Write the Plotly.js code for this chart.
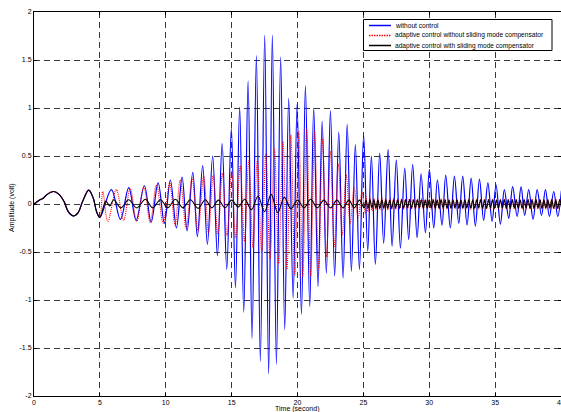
<!DOCTYPE html>
<html>
<head>
<meta charset="utf-8">
<script src="https://cdn.plot.ly/plotly-3.0.1.min.js"></script>
<style>html,body{margin:0;padding:0;background:#fff;}#chart{width:561px;height:412px;}</style>
</head>
<body>
<div id="chart"></div>
<script>
// Common response for t in [0,5] (all three curves coincide)
const tCommon = [0,0.4,0.7,1.0,1.5,1.9,2.3,2.6,3.0,3.35,3.7,4.15,4.5,4.75,5.0];
const yCommon = [0,0.04,0.06,0.1,0.13,0.1,0.02,-0.08,-0.125,-0.09,0.03,0.145,0.06,-0.08,-0.14];

// Without control (blue) after t = 5 s : peaks and troughs
const tBlue = [5.87,6.56,7.19,7.75,8.38,8.89,9.42,9.9,10.35,10.81,11.24,11.62,12.05,12.4,12.8,13.16,13.56,13.92,14.28,14.63,14.98,
  15.29,15.61,15.92,16.25,16.55,16.88,17.18,17.51,17.81,18.09,18.4,18.72,19.03,19.33,19.67,19.97,20.3,20.6,20.93,21.23,21.56,21.87,22.19,22.5,22.82,23.13,23.46,23.77,24.09,24.39,
  24.7,25.02,25.33,25.61,25.91,26.24,26.54,26.88,27.18,27.5,27.81,28.14,28.44,28.74,29.08,29.38,29.71,30.01,30.34,30.62,30.97,31.25,31.6,31.91,32.24,32.54,32.87,33.18,33.5,33.81,34.13,34.45,
  34.77,35.07,35.4,35.7,36.03,36.33,36.67,36.97,37.24,37.55,37.88,38.19,38.52,38.82,39.12,39.45,39.75,40.03];
const yBlue = [0.15,-0.16,0.17,-0.17,0.19,-0.19,0.22,-0.2,0.25,-0.25,0.28,-0.28,0.33,-0.34,0.40,-0.42,0.50,-0.54,0.63,-0.68,0.79,
  -0.875,1.01,-1.13,1.28,-1.40,1.545,-1.64,1.76,-1.77,1.76,-1.67,1.53,-1.31,1.10,-0.98,1.04,-1.15,1.23,-1.07,1.0,-0.86,0.86,-0.72,0.97,-0.75,0.75,-0.77,0.83,-0.70,0.62,
  -0.68,0.72,-0.49,0.5,-0.63,0.53,-0.41,0.57,-0.44,0.46,-0.46,0.375,-0.37,0.41,-0.35,0.315,-0.30,0.36,-0.25,0.25,-0.22,0.30,-0.25,0.29,-0.2,0.29,-0.22,0.27,-0.23,0.26,-0.17,0.22,
  -0.18,0.2,-0.21,0.15,-0.15,0.18,-0.13,0.18,-0.12,0.15,-0.16,0.15,-0.12,0.15,-0.13,0.13,-0.13,0.14];

// Adaptive control without sliding mode compensator (red dotted) after t = 5 s
const tRed = [5.22,5.6,6.25,6.8,7.3,7.8,8.33,8.82,9.3,9.8,10.3,10.7,11.1,11.55,12.0,12.45,12.88,13.25,13.6,13.95,14.3,14.65,15.0,15.3,15.65,15.98,16.3,16.62,16.95,17.28,17.6,17.92,18.25,18.57,18.9,19.2,19.5,19.8,20.1,20.4,20.7,21.0,21.3,21.6,21.9,22.2,22.5,22.8,23.1,23.4,23.7,24.0,24.3,24.6,24.9,25.15];
const yRed = [0.13,-0.18,0.15,-0.17,0.16,-0.18,0.18,-0.19,0.2,-0.2,0.22,-0.22,0.25,-0.25,0.27,-0.28,0.29,-0.30,0.30,-0.31,0.32,-0.33,0.34,-0.35,0.40,-0.39,0.45,-0.45,0.46,-0.5,0.52,-0.57,0.58,-0.62,0.65,-0.68,0.72,-0.74,0.76,-0.76,0.78,-0.75,0.76,-0.68,0.68,-0.55,0.55,-0.44,0.42,-0.32,0.3,-0.2,0.17,-0.14,0.12,-0.1];

// Adaptive control with sliding mode compensator (black) after t = 5 s
const tBlack = [5.45,5.75,6.05,6.6,7.19,7.8,8.46,9.0,9.6,10.15,10.73,11.3,11.87,12.45,13.0,13.5,14.0,14.5,15.0,15.5,16.0,16.5,17.0,17.5,18.0,18.5,19.0,19.5,20.0,20.5,21.0,21.5,22.0,22.5,23.0,23.45,23.9,24.3,24.7,25.05];
const yBlack = [0.03,-0.02,0.045,-0.04,0.045,-0.04,0.05,-0.04,0.045,-0.04,0.05,-0.04,0.045,-0.045,0.045,-0.04,0.04,-0.04,0.04,-0.03,0.05,-0.06,0.08,-0.08,0.1,-0.09,0.07,-0.05,0.04,-0.04,0.05,-0.04,0.04,-0.04,0.04,-0.04,0.04,-0.04,0.04,-0.04];

// Late, fast, small oscillation (t > 25 s) for the two controlled responses
const tLate = [25.2,25.35,25.5,25.65,25.8,25.95,26.1,26.25,26.4,26.55,26.7,26.85,27.0,27.15,27.3,27.45,27.6,27.75,27.9,28.05,28.2,28.35,28.5,28.65,28.8,28.95,29.1,29.25,29.4,29.55,29.7,29.85,30.0,30.15,30.3,30.45,30.6,30.75,30.9,31.05,31.2,31.35,31.5,31.65,31.8,31.95,32.1,32.25,32.4,32.55,32.7,32.85,33.0,33.15,33.3,33.45,33.6,33.75,33.9,34.05,34.2,34.35,34.5,34.65,34.8,34.95,35.1,35.25,35.4,35.55,35.7,35.85,36.0,36.15,36.3,36.45,36.6,36.75,36.9,37.05,37.2,37.35,37.5,37.65,37.8,37.95,38.1,38.25,38.4,38.55,38.7,38.85,39.0,39.15,39.3,39.45,39.6,39.75,39.9,40.05];
const yRedLate = [0.08,-0.08,0.07,-0.07,0.06,-0.06,0.06,-0.06,0.06,-0.055,0.055,-0.06,0.055,-0.055,0.06,-0.055,0.055,-0.05,0.055,-0.055,0.05,-0.055,0.055,-0.05,0.05,-0.055,0.05,-0.05,0.055,-0.05,0.05,-0.05,0.05,-0.055,0.05,-0.05,0.05,-0.05,0.055,-0.05,0.05,-0.05,0.05,-0.05,0.05,-0.05,0.055,-0.05,0.05,-0.05,0.05,-0.05,0.05,-0.055,0.05,-0.05,0.05,-0.05,0.05,-0.05,0.05,-0.05,0.05,-0.05,0.05,-0.05,0.05,-0.05,0.05,-0.05,0.05,-0.05,0.05,-0.05,0.05,-0.05,0.05,-0.05,0.05,-0.05,0.05,-0.05,0.05,-0.05,0.05,-0.05,0.05,-0.05,0.05,-0.05,0.05,-0.05,0.05,-0.05,0.05,-0.05,0.05,-0.05,0.05,-0.05];
const yBlackLate = [0.04,-0.045,0.045,-0.04,0.045,-0.045,0.04,-0.045,0.045,-0.04,0.045,-0.045,0.04,-0.045,0.045,-0.04,0.045,-0.045,0.04,-0.045,0.045,-0.04,0.045,-0.045,0.04,-0.045,0.045,-0.04,0.045,-0.045,0.04,-0.045,0.045,-0.04,0.045,-0.045,0.04,-0.045,0.045,-0.04,0.045,-0.045,0.04,-0.045,0.045,-0.04,0.045,-0.045,0.04,-0.045,0.045,-0.04,0.045,-0.045,0.04,-0.045,0.045,-0.04,0.045,-0.045,0.04,-0.045,0.045,-0.04,0.045,-0.045,0.04,-0.045,0.045,-0.04,0.045,-0.045,0.04,-0.045,0.045,-0.04,0.045,-0.045,0.04,-0.045,0.045,-0.04,0.045,-0.045,0.04,-0.045,0.045,-0.04,0.045,-0.045,0.04,-0.045,0.045,-0.04,0.045,-0.045,0.04,-0.045,0.045,-0.04];

const seriesNames = ['without control','adaptive control without sliding mode compensator','adaptive control with sliding mode compensator'];
const seriesColors = ['#0000ff','#ff0000','#000000'];
const yTickVals = [-2,-1.5,-1,-0.5,0,0.5,1,1.5,2];
const yTickText = ['-2','-1.5','-1','-0.5','0','0.5','1','1.5','2'];
const xTickVals = [0,5,10,15,20,25,30,35,40];

const FONT = 'Liberation Sans, Arial, sans-serif';
const font = {family:FONT, size:7, color:'#000'};

const traces = [
  {x: tCommon.concat(tBlue), y: yCommon.concat(yBlue), name: seriesNames[0], mode:'lines',
   line:{color:seriesColors[0], width:1.2, shape:'spline', smoothing:1}},
  {x: tCommon.concat(tRed, tLate), y: yCommon.concat(yRed, yRedLate), name: seriesNames[1], mode:'lines',
   line:{color:seriesColors[1], width:1.1, dash:'1px,1px', shape:'spline', smoothing:1}},
  {x: tCommon.concat(tBlack, tLate), y: yCommon.concat(yBlack, yBlackLate), name: seriesNames[2], mode:'lines',
   line:{color:seriesColors[2], width:1.1, shape:'spline', smoothing:1}}
];

// Hand-built legend box (MATLAB-style compact legend)
const plotL = 34, plotW = 527, plotT = 12, plotH = 384;
const px2x = p => (p - plotL) / plotW;
const py2y = p => (plotT + plotH - p) / plotH;
const legRows = [25.5, 35.5, 45.5];
const shapes = [
  {type:'rect', xref:'paper', yref:'paper', x0:px2x(363.5), x1:px2x(552), y0:py2y(50.5), y1:py2y(19.5),
   line:{color:'#000', width:1}, fillcolor:'#fff', layer:'above'}
];
const annotations = [];
seriesNames.forEach((n, i) => {
  shapes.push({type:'line', xref:'paper', yref:'paper', x0:px2x(369), x1:px2x(391), y0:py2y(legRows[i]), y1:py2y(legRows[i]),
    line:{color:seriesColors[i], width:1.5, dash: i === 1 ? '1.5px,1px' : 'solid'}, layer:'above'});
  annotations.push({xref:'paper', yref:'paper', x:px2x(392.5), y:py2y(legRows[i]), xanchor:'left', yanchor:'middle',
    text:n, showarrow:false, font:{family:FONT, size:6.6, color:'#000'}});
});
annotations.push({xref:'paper', yref:'paper', x:px2x(297), y:py2y(409), xanchor:'center', yanchor:'middle',
  text:'Time (second)', showarrow:false, font:{family:FONT, size:7, color:'#000'}});
annotations.push({xref:'paper', yref:'paper', x:px2x(12), y:py2y(208), xanchor:'center', yanchor:'middle', textangle:-90,
  text:'Amplitude (volt)', showarrow:false, font:{family:FONT, size:7, color:'#000'}});

const gridStyle = {showgrid:true, gridcolor:'#3a3a3a', gridwidth:1, griddash:'6px,4px'};

const layout = {
  width:561, height:412,
  margin:{l:34, r:0, t:12, b:16},
  paper_bgcolor:'#fff', plot_bgcolor:'#fff',
  font: font,
  showlegend:false,
  shapes: shapes,
  annotations: annotations,
  xaxis: Object.assign({range:[0,40], tickvals:xTickVals, ticks:'inside', ticklen:3, tickcolor:'#000',
          showline:true, linecolor:'#000', linewidth:1, mirror:'ticks', zeroline:false, automargin:false,
          ticklabelstandoff:0, ticklabeloverflow:'allow'}, gridStyle),
  yaxis: Object.assign({range:[-2,2], tickvals:yTickVals, ticktext:yTickText, ticks:'inside', ticklen:3, tickcolor:'#000',
          showline:true, linecolor:'#000', linewidth:1, mirror:'ticks', zeroline:false, automargin:false}, gridStyle)
};

Plotly.newPlot('chart', traces, layout, {displayModeBar:false, staticPlot:true});
</script>
</body>
</html>
